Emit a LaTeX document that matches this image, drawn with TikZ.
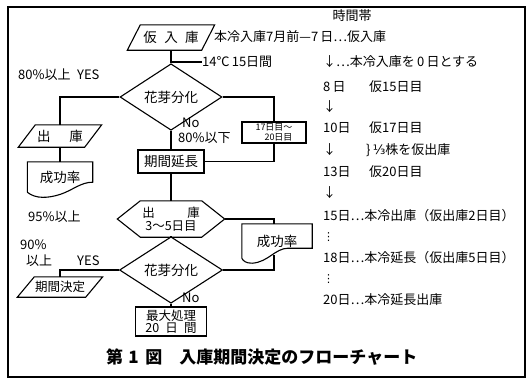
\documentclass[tikz,border=0pt]{standalone}
\usepackage{fontspec}
\setmainfont{Noto Sans CJK JP}
\newfontfamily\dejavu{DejaVu Sans}
\usetikzlibrary{shapes.geometric,calc}
\begin{document}
\begin{tikzpicture}[x=1pt,y=-1pt,
  every node/.style={inner sep=0pt, font=\fontsize{13}{15}\selectfont},
  ln/.style={line width=1.1pt},
  shp/.style={line width=1.1pt},
  blank/.style={inner sep=0pt, align=center},
  boxtxt/.style={font=\fontsize{13.5}{14}\selectfont},
  dia/.style={diamond, draw, line width=1.1pt, inner sep=0pt, font=\fontsize{13.5}{14}\selectfont},
  rt/.style={anchor=west},
  vd/.style={anchor=west, font=\dejavu\fontsize{11}{11}\selectfont},
]
\useasboundingbox (0,0) rectangle (532,381);
\draw[line width=1.3pt] (8,7) rectangle (525,377);

% ---- main column ----
\node[blank, boxtxt, minimum width=87pt, minimum height=25pt] (nyuko) at (171,37.5) {仮\hspace{0.55em}入\hspace{0.55em}庫};
\draw[shp] (nyuko.south west) -- ($(nyuko.south east)+(-13,0)$) -- (nyuko.north east) -- ($(nyuko.north west)+(13,0)$) -- cycle;

\node[dia, minimum width=102pt, minimum height=37pt] (d1) at (171,97) {花芽分化};

\node[draw, shp, blank, boxtxt, minimum width=66pt, minimum height=23pt] (ki) at (171,161.5) {期間延長};

\node[blank, minimum width=61pt, minimum height=36pt, font=\fontsize{12.5}{12.5}\selectfont] (hex) at (171,219) {出\hspace{2.6em}庫\\3〜5日目};
\coordinate (hexE) at ($(hex.east)+(23,0)$);
\coordinate (hexW) at ($(hex.west)+(-23,0)$);
\draw[shp] (hex.north west) -- (hex.north east) -- (hexE) -- (hex.south east) -- (hex.south west) -- (hexW) -- cycle;

\node[dia, minimum width=103pt, minimum height=37pt] (d2) at (171,270) {花芽分化};

\node[draw, shp, blank, minimum width=71pt, minimum height=29pt, font=\fontsize{12.5}{12}\selectfont] (saidai) at (171,321.5) {最大処理\\20\hspace{0.5em}日\hspace{0.5em}間};

% ---- left column ----
\node[blank, boxtxt, minimum width=83pt, minimum height=22pt] (shukko) at (60,136) {出\hspace{1.4em}庫};
\draw[shp] (shukko.south west) -- ($(shukko.south east)+(-17,0)$) -- (shukko.north east) -- ($(shukko.north west)+(17,0)$) -- cycle;

\node[blank, boxtxt, minimum width=65pt, minimum height=30pt] (seiko1) at (60,177) {成功率};
\draw[shp] (seiko1.south west) -- (seiko1.north west) -- (seiko1.north east) -- ($(seiko1.south east)+(0,-10)$)
  .. controls ($(seiko1.south east)+(-12,-10)$) and ($(seiko1.south east)+(-20,-2)$) .. ($(seiko1.south east)+(-32,2)$)
  .. controls ($(seiko1.south east)+(-44,6)$) and ($(seiko1.south east)+(-57,7)$) .. (seiko1.south west);

\node[blank, font=\fontsize{12.5}{13}\selectfont, minimum width=85pt, minimum height=20pt] (kikan) at (60,287) {期間決定};
\draw[shp] (kikan.south west) -- ($(kikan.south east)+(-17,0)$) -- (kikan.north east) -- ($(kikan.north west)+(17,0)$) -- cycle;

% ---- right boxes ----
\node[draw, shp, blank, minimum width=64pt, minimum height=21pt, align=right, font=\fontsize{9}{9.5}\selectfont] (box17) at (274,132.5) {17日目〜\\20日目};

\node[blank, boxtxt, minimum width=70pt, minimum height=34pt] (seiko2) at (277,241) {成功率};
\draw[shp] (seiko2.south west) -- (seiko2.north west) -- (seiko2.north east) -- ($(seiko2.south east)+(0,-10)$)
  -- ($(seiko2.south east)+(-24,-10)$)
  .. controls ($(seiko2.south east)+(-37,-10)$) and ($(seiko2.south east)+(-44,4)$) .. ($(seiko2.south east)+(-60,5)$)
  .. controls ($(seiko2.south east)+(-66,5)$) and ($(seiko2.south east)+(-69,3)$) .. (seiko2.south west);
\coordinate (s2b) at (274,254.5);

% ---- connectors ----
\coordinate (tk) at (171,62);
\node[rt] (lbl14) at (202,62) {14℃\,15日間};
\draw[ln] (tk) -- (lbl14.west);
\draw[ln] (nyuko.south) -- (d1.north);
\draw[ln] (d1.west) -| (shukko.north);
\draw[ln] (shukko.south) -- (seiko1.north);
\draw[ln] (d1.south) -- (ki.north);
\draw[ln] (d1.east) -| (box17.north);
\draw[ln] (box17.south) |- (ki.east);
\draw[ln] (ki.south) -- (hex.north);
\draw[ln] (hexE) -| (seiko2.north -| box17.south);
\draw[ln] (d2.east) -| (s2b);
\draw[ln] (hex.south) -- (d2.north);
\draw[ln] (d2.west) -| (kikan.north);
\draw[ln] (d2.south) -- (saidai.north);

% ---- labels ----
\node[rt] (l1) at (18,75) {80\%以上\hspace{0.5em}YES};
\node[rt] (l2) at (182,123) {No};
\node[rt] (l3) at (178,138) {80\%以下};
\node[rt] (l4) at (28,217) {95\%以上};
\node[rt] (l5) at (20,245) {90\%};
\node[rt] (l6) at (26,261) {以上};
\node[rt] (l7) at (77,261) {YES};
\node[rt] (l8) at (182,298) {No};

% ---- time column ----
\node (r0) at (352,16) {時間帯};
\node[rt] (r1) at (214,37) {本冷入庫7月前—7\,日…仮入庫};
\node[rt] (r2) at (323,62) {↓…本冷入庫を\,0\,日とする};
\node[rt] (r3) at (323,87) {8\,日};
\node[rt] (r3b) at (369,87) {仮15日目};
\node[rt] (r4) at (323,107) {↓};
\node[rt] (r5) at (323,128) {10日};
\node[rt] (r5b) at (369,128) {仮17日目};
\node[rt] (r6) at (323,150) {↓};
\node[rt] (r6b) at (366,150) {\}\,{\dejavu ⅓}株を仮出庫};
\node[rt] (r7) at (323,172) {13日};
\node[rt] (r7b) at (369,172) {仮20日目};
\node[rt] (r8) at (323,193) {↓};
\node[rt] (r9) at (323,216) {15日…本冷出庫（仮出庫2日目）};
\node[vd] (r10) at (323,237) {⋮};
\node[rt] (r11) at (323,258) {18日…本冷延長（仮出庫5日目）};
\node[vd] (r12) at (323,279) {⋮};
\node[rt] (r13) at (323,300) {20日…本冷延長出庫};

% ---- caption ----
\node[rt, font=\fontsize{17}{17}\selectfont\bfseries] (cap) at (106,357) {第\hspace{0.3em}1\hspace{0.4em}図\hspace{1em}入庫期間決定のフローチャート};
\end{tikzpicture}
\end{document}
